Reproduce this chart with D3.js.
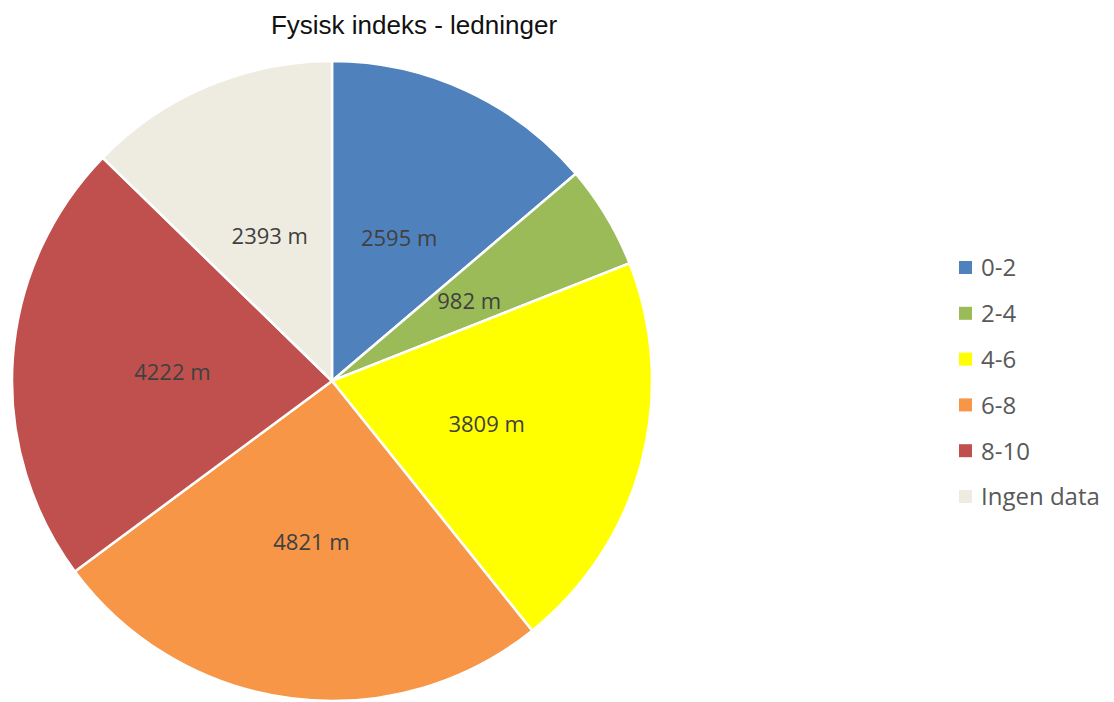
<!DOCTYPE html>
<html><head><meta charset="utf-8">
<script src="https://cdn.jsdelivr.net/npm/d3@7"></script>
<style>body{margin:0;background:#fff;}</style>
</head><body>
<svg id="c" width="1114" height="702"></svg>
<script>
const categories = ["0-2","2-4","4-6","6-8","8-10","Ingen data"];
const values = [2595, 982, 3809, 4821, 4222, 2393];
const labels = ["2595 m","982 m","3809 m","4821 m","4222 m","2393 m"];
const colors = ["#4F81BD","#9BBB59","#FFFF00","#F79646","#C0504D","#EEECE1"];
const title = "Fysisk indeks - ledninger";

const svg = d3.select("#c");
const cx = 332, cy = 381, R = 320;
const data = categories.map((c,i)=>({cat:c, value:values[i], label:labels[i], color:colors[i]}));
const pie = d3.pie().value(d=>d.value).sort(null);
const arcs = pie(data);
const arc = d3.arc().innerRadius(0).outerRadius(R);
const labelArc = d3.arc().innerRadius(160).outerRadius(160);
const g = svg.append("g").attr("transform",`translate(${cx},${cy})`);
g.selectAll("path").data(arcs).enter().append("path")
  .attr("d",arc).attr("fill",d=>d.data.color)
  .attr("stroke","#fff").attr("stroke-width",2.5);
g.selectAll("text").data(arcs).enter().append("text")
  .attr("transform",d=>`translate(${labelArc.centroid(d)})`)
  .attr("text-anchor","middle").attr("dy","0.45em")
  .attr("font-family","Open Sans, sans-serif").attr("font-size",22)
  .attr("fill","#404040").text(d=>d.data.label);

svg.append("text").attr("x",414).attr("y",34).attr("text-anchor","middle")
  .attr("font-family","Liberation Sans, Arial, sans-serif").attr("font-size",26)
  .attr("fill","#111").text(title);

const leg = svg.append("g");
const ly = d3.scalePoint().domain(categories).range([268,497]);
const items = leg.selectAll("g").data(data).enter().append("g")
  .attr("transform",d=>`translate(959,${ly(d.cat)})`);
items.append("rect").attr("x",0).attr("y",-7).attr("width",13).attr("height",13).attr("fill",d=>d.color);
items.append("text").attr("x",22).attr("dy","0.35em")
  .attr("font-family","Open Sans, sans-serif").attr("font-size",24)
  .attr("fill","#595959").text(d=>d.cat);
</script>
</body></html>
